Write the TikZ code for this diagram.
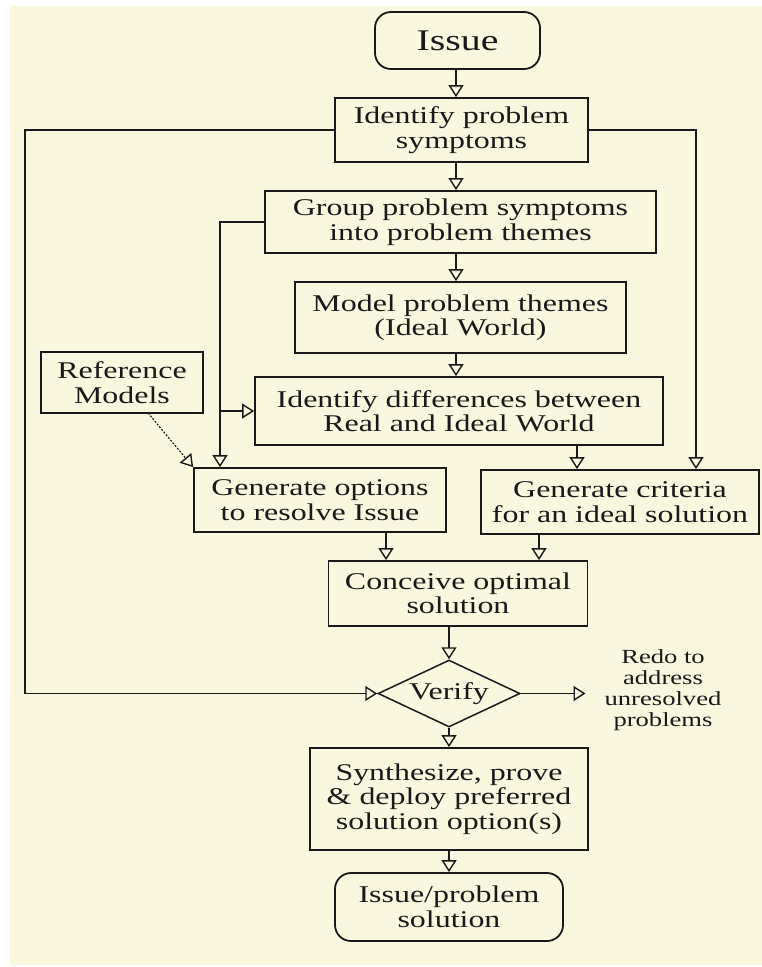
\documentclass[tikz,border=0pt]{standalone}
\usepackage{fontspec}
\usetikzlibrary{arrows.meta,shapes.geometric}
\newfontfamily\flowfont[FakeStretch=1.33]{Liberation Serif}
\definecolor{paper}{RGB}{249,247,222}
\definecolor{ink}{RGB}{25,25,25}
\tikzset{
  box/.style={draw=ink, line width=1.8pt, rectangle, align=center, inner sep=0pt,
    text=ink, font=\flowfont\fontsize{24}{24.5}\selectfont},
  term/.style={box, rounded corners=16pt},
  decision/.style={draw=ink, line width=1.5pt, diamond, aspect=2.1, inner sep=0pt,
    text=ink, font=\flowfont\fontsize{24}{24.5}\selectfont},
  arr/.style={draw=ink, line width=1.6pt, -{Triangle[open, width=15pt, length=12pt, line width=1.4pt]}},
  note/.style={align=center, text=ink, inner sep=0pt, font=\flowfont\fontsize{20}{21}\selectfont}
}
\begin{document}
\begin{tikzpicture}[x=1pt, y=-1pt]
  % page and paper
  \useasboundingbox (0,0) rectangle (762,967);
  \fill[white] (0,0) rectangle (762,967);
  \fill[paper] (10,6) rectangle (762,965);

  % process steps
  \node[term, minimum width=165pt, minimum height=57pt, font=\flowfont\fontsize{30}{30}\selectfont]
    (issue) at (457.5,40.5) {Issue};
  \node[box, minimum width=253pt, minimum height=64pt] (ident) at (461.5,130)
    {Identify problem\\symptoms};
  \node[box, minimum width=391pt, minimum height=62pt] (group) at (460.5,222)
    {Group problem symptoms\\into problem themes};
  \node[box, minimum width=331pt, minimum height=71pt] (model) at (460.5,317.5)
    {Model problem themes\\(Ideal World)};
  \node[box, minimum width=162pt, minimum height=61pt] (refm) at (122,382.5)
    {Reference\\Models};
  \node[box, minimum width=408pt, minimum height=68pt] (diff) at (459,411)
    {Identify differences between\\Real and Ideal World};
  \node[box, minimum width=252pt, minimum height=64pt] (options) at (320,500)
    {Generate options\\to resolve Issue};
  \node[box, minimum width=278pt, minimum height=64pt] (criteria) at (620,502)
    {Generate criteria\\for an ideal solution};
  \node[box, minimum width=259pt, minimum height=65pt] (conceive) at (458,593.5)
    {Conceive optimal\\solution};
  \node[decision, minimum width=142pt, minimum height=67pt] (verify) at (449,693.5) {Verify};
  \node[note] (redo) at (663,690) {Redo to\\address\\unresolved\\problems};
  \node[box, minimum width=278pt, minimum height=102pt] (synth) at (449,799)
    {Synthesize, prove\\\& deploy preferred\\solution option(s)};
  \node[term, minimum width=228pt, minimum height=68pt] (final) at (449,907)
    {Issue/problem\\solution};

  % connector columns
  \coordinate (main) at (456,0);
  \coordinate (lft) at (25,0);
  \coordinate (rgt) at (696,0);
  \coordinate (gl) at (220,0);
  \coordinate (cr) at (577,0);
  \coordinate (oc) at (386,0);
  \coordinate (cc) at (539,0);
  \coordinate (redoend) at (585.5,693.5);
  \coordinate (refout) at (148,413);

  % main flow
  \draw[arr] (main |- issue.south) -- (main |- ident.north);
  \draw[arr] (main |- ident.south) -- (main |- group.north);
  \draw[arr] (main |- group.south) -- (main |- model.north);
  \draw[arr] (main |- model.south) -- (main |- diff.north);
  \draw[arr] (cr |- diff.south) -- (cr |- criteria.north);
  \draw[arr] (oc |- options.south) -- (oc |- conceive.north);
  \draw[arr] (cc |- criteria.south) -- (cc |- conceive.north);
  \draw[arr] (verify.north |- conceive.south) -- (verify.north);
  \draw[arr] (verify.south) -- (synth.north);
  \draw[arr] (synth.south) -- (final.north);
  \draw[arr] (verify.east) -- (redoend);

  % loops from the symptoms step
  \draw[arr] (ident.west) -- (lft |- ident.west) -- (lft |- verify.west) -- (verify.west);
  \draw[arr] (ident.east) -- (rgt |- ident.east) -- (rgt |- criteria.north);

  % feeds from the themes step
  \draw[arr] (group.west) -- (gl |- group.west) -- (gl |- options.north);
  \draw[arr] (gl |- diff.west) -- (diff.west);

  % reference models input
  \draw[arr, line width=1.1pt, dash pattern=on 2pt off 1.5pt] (refout) -- (options.north west);
\end{tikzpicture}
\end{document}
